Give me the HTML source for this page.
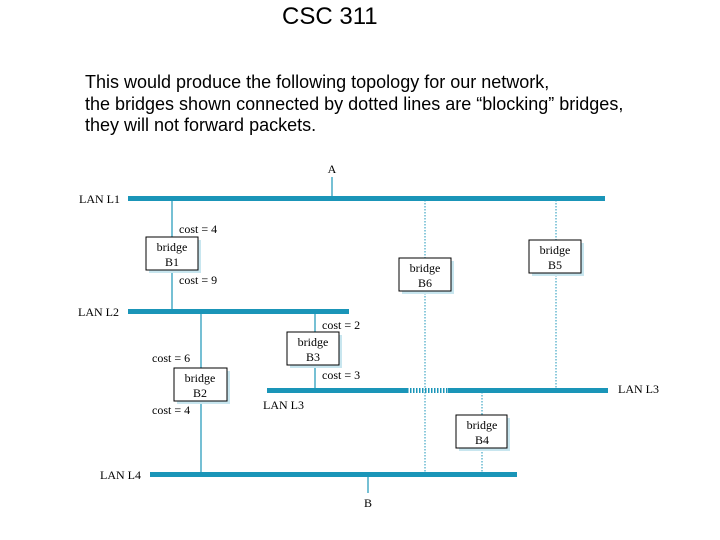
<!DOCTYPE html>
<html><head><style>
body{margin:0;width:720px;height:540px;background:#fff;position:relative;overflow:hidden;font-family:"Liberation Sans",sans-serif}
.t{position:absolute;left:282px;top:3px;font-size:24px}
.p{position:absolute;left:85px;top:72px;font-size:18px;line-height:21.5px}
</style></head><body>
<div class="t">CSC 311</div>
<div class="p">This would produce the following topology for our network,<br>the bridges shown connected by dotted lines are “blocking” bridges,<br>they will not forward packets.</div>
<svg width="720" height="540" style="position:absolute;left:0;top:0" font-family="Liberation Serif,serif" font-size="12">
<g fill="#1a95b8">
<rect x="128" y="196" width="477" height="5"/>
<rect x="128" y="309" width="221" height="5"/>
<rect x="267" y="388" width="140" height="5"/>
<rect x="448" y="388" width="160" height="5"/>
<rect x="150" y="472" width="367" height="5"/>
</g>
<line x1="407" y1="390.5" x2="448" y2="390.5" stroke="#1a95b8" stroke-width="5" stroke-dasharray="1.5,1.5"/>
<g stroke="#1a95b8" stroke-width="1.2">
<line x1="332" y1="177" x2="332" y2="197"/>
<line x1="172" y1="200" x2="172" y2="310"/>
<line x1="201" y1="313" x2="201" y2="473"/>
<line x1="315" y1="313" x2="315" y2="389"/>
<line x1="368" y1="476" x2="368" y2="493"/>
</g>
<g stroke="#1a95b8" stroke-width="1" stroke-dasharray="1.5,1.5">
<line x1="425" y1="200" x2="425" y2="473"/>
<line x1="556" y1="200" x2="556" y2="389"/>
<line x1="482" y1="392" x2="482" y2="473"/>
</g>
<g fill="#c8e6ef">
<rect x="149" y="240" width="52" height="33"/><rect x="290" y="335" width="52" height="33"/>
<rect x="177" y="371" width="53" height="33"/><rect x="402" y="261" width="52" height="33"/>
<rect x="532" y="243" width="52" height="33"/><rect x="459" y="418" width="51" height="33"/>
</g>
<g fill="#fff" stroke="#000" stroke-width="1">
<rect x="146" y="237" width="52" height="33"/><rect x="287" y="332" width="52" height="33"/>
<rect x="174" y="368" width="53" height="33"/><rect x="399" y="258" width="52" height="33"/>
<rect x="529" y="240" width="52" height="33"/><rect x="456" y="415" width="51" height="33"/>
</g>
<g text-anchor="middle">
<text x="172" y="251">bridge</text><text x="172" y="266">B1</text>
<text x="313" y="346">bridge</text><text x="313" y="361">B3</text>
<text x="200" y="382">bridge</text><text x="200" y="397">B2</text>
<text x="425" y="272">bridge</text><text x="425" y="287">B6</text>
<text x="555" y="254">bridge</text><text x="555" y="269">B5</text>
<text x="482" y="429">bridge</text><text x="482" y="444">B4</text>
<text x="332" y="173">A</text><text x="368" y="507">B</text>
</g>
<text x="79" y="203">LAN L1</text>
<text x="78" y="316">LAN L2</text>
<text x="618" y="393">LAN L3</text>
<text x="263" y="409">LAN L3</text>
<text x="100" y="479">LAN L4</text>
<text x="179" y="233">cost = 4</text>
<text x="179" y="284">cost = 9</text>
<text x="322" y="329">cost = 2</text>
<text x="322" y="379">cost = 3</text>
<text x="152" y="362">cost = 6</text>
<text x="152" y="414">cost = 4</text>
</svg>
</body></html>
